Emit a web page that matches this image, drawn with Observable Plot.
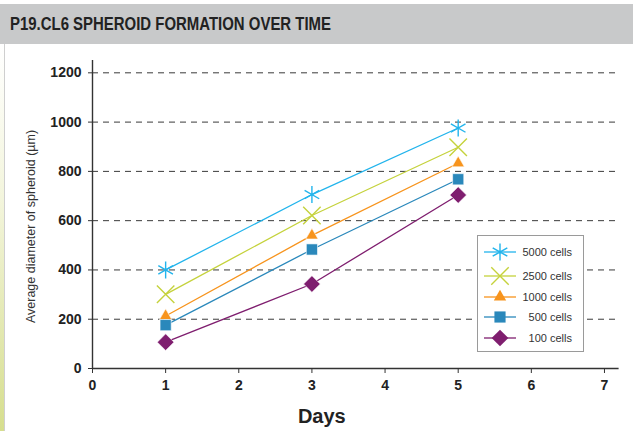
<!DOCTYPE html>
<html>
<head>
<meta charset="utf-8">
<script src="https://cdn.jsdelivr.net/npm/d3@7"></script>
<script src="https://cdn.jsdelivr.net/npm/@observablehq/plot@0.6"></script>
<style>
  html, body { margin: 0; padding: 0; background: #fff; }
  #wrap { position: relative; width: 633px; height: 431px; overflow: hidden; background: #fff; }
  #strip { position: absolute; left: 0; top: 44px; width: 4px; height: 387px;
           background: linear-gradient(to bottom, #ffffff 0%, #f3f5dc 40%, #d6de8e 100%); }
  #edge { position: absolute; left: 4px; top: 44px; width: 1px; height: 387px; background: #cfcfcf; }
  #bar { position: absolute; left: 0; top: 4px; width: 633px; height: 40px; background: #c8c9ca; }
  #title { position: absolute; left: 10px; top: 4px; height: 40px; line-height: 40px; white-space: nowrap;
           font-family: "Liberation Sans", Arial, sans-serif; transform: scaleX(0.83); transform-origin: left center;
           font-weight: bold; font-size: 18px; color: #222; }
  #chart { position: absolute; left: 0; top: 44px; }
  #legend { position: absolute; left: 477px; top: 235px; width: 107px; height: 117px;
            border: 1px solid #9a9a9a; box-sizing: border-box; background: #fff; }
</style>
</head>
<body>
<div id="wrap">
  <div id="bar"></div>
  <div id="title">P19.CL6 SPHEROID FORMATION OVER TIME</div>
  <div id="strip"></div>
  <div id="edge"></div>
  <div id="chart"></div>
  <div id="legend"></div>
</div>
<script>
const days = [1, 3, 5];
const series = ["5000 cells", "2500 cells", "1000 cells", "500 cells", "100 cells"];
const v5000 = [400, 706, 976];
const v2500 = [301, 621, 898];
const v1000 = [213, 540, 833];
const v500  = [176, 483, 768];
const v100  = [107, 343, 704];
const colors  = ["#22b4ec", "#c5d23c", "#f7941d", "#2a88bb", "#7f1e6f"];
const symbols = ["asterisk", "times", "triangle", "square", "diamond2"];
const yTicks = [0, 200, 400, 600, 800, 1000, 1200];
const xTicks = [0, 1, 2, 3, 4, 5, 6, 7];
const gridTicks = [200, 400, 600, 800, 1000, 1200];
const yLabel = "Average diameter of spheroid (µm)";
const xLabel = "Days";

const values = [v5000, v2500, v1000, v500, v100];
const data = [];
series.forEach((s, i) => days.forEach((d, j) => data.push({series: s, day: d, value: values[i][j]})));

const font = '"Liberation Sans", Arial, sans-serif';
const sizes = {"asterisk": 8, "times": 8, "triangle": 4.6, "square": 6.3, "diamond2": 7.5};

const marks = [
  Plot.ruleY(gridTicks, {x1: 0, x2: 7.2, stroke: "#3a3a3a", strokeWidth: 1, strokeDasharray: "6,5"}),
  Plot.ruleY([0], {x1: 0, x2: 7.2, stroke: "#333", strokeWidth: 1.4}),
  Plot.ruleX([0], {y1: 0, y2: 1250, stroke: "#333", strokeWidth: 1.4}),
  Plot.axisY({ticks: yTicks, tickSize: 4, tickPadding: 7, fontSize: 14, fontWeight: "bold", fill: "#222",
              tickFormat: d3.format("d"), label: null}),
  Plot.axisX({ticks: xTicks, tickSize: 5, tickPadding: 7, fontSize: 14, fontWeight: "bold", fill: "#222", label: null, tickFormat: d3.format("d")}),
  Plot.text([yLabel], {frameAnchor: "left", textAnchor: "middle", rotate: -90, dx: -62, dy: 12, lineAnchor: "middle", fontSize: 12.5, fill: "#333"}),
  Plot.text([xLabel], {frameAnchor: "bottom", dx: -34, dy: 48, lineAnchor: "middle", fontSize: 20, fontWeight: "bold", fill: "#222"})
];
series.forEach((s, i) => {
  const sub = data.filter(d => d.series === s);
  marks.push(Plot.line(sub, {x: "day", y: "value", stroke: colors[i], strokeWidth: 1.3}));
  const stroked = symbols[i] === "asterisk" || symbols[i] === "times";
  marks.push(Plot.dot(sub, {x: "day", y: "value", symbol: () => symbols[i], r: sizes[symbols[i]],
    stroke: stroked ? colors[i] : "white", strokeWidth: stroked ? 1.4 : 0.6, fill: stroked ? "none" : colors[i]}));
});

const chart = Plot.plot({
  width: 633,
  height: 387,
  marginLeft: 92,
  marginRight: 14.4,
  marginTop: 16,
  marginBottom: 63,
  style: {fontFamily: font, fontSize: "12px", color: "#333", background: "transparent"},
  x: {domain: [0, 7.2]},
  y: {domain: [0, 1250]},
  symbol: {type: "identity"},
  marks
});
document.getElementById("chart").appendChild(chart);

// Legend
const lg = d3.select("#legend").append("svg").attr("width", 105).attr("height", 115);
const rowY = [16, 40, 61, 81, 102];
const symMap = {asterisk: d3.symbolAsterisk, times: d3.symbolTimes, triangle: d3.symbolTriangle, square: d3.symbolSquare, diamond2: d3.symbolDiamond2};
series.forEach((s, i) => {
  const g = lg.append("g").attr("transform", `translate(0,${rowY[i]})`);
  g.append("line").attr("x1", 6).attr("x2", 38).attr("stroke", colors[i]).attr("stroke-width", 1.3);
  const r = sizes[symbols[i]];
  const stroked = symbols[i] === "asterisk" || symbols[i] === "times";
  g.append("path").attr("transform", "translate(22,0)")
    .attr("d", d3.symbol(symMap[symbols[i]], r * r * Math.PI)())
    .attr("fill", stroked ? "none" : colors[i])
    .attr("stroke", stroked ? colors[i] : "none").attr("stroke-width", 1.4);
  g.append("text").attr("x", 94).attr("y", 0).attr("dy", "0.35em").attr("text-anchor", "end")
    .attr("font-family", font).attr("font-size", 11).attr("fill", "#333").text(s);
});
</script>
</body>
</html>
